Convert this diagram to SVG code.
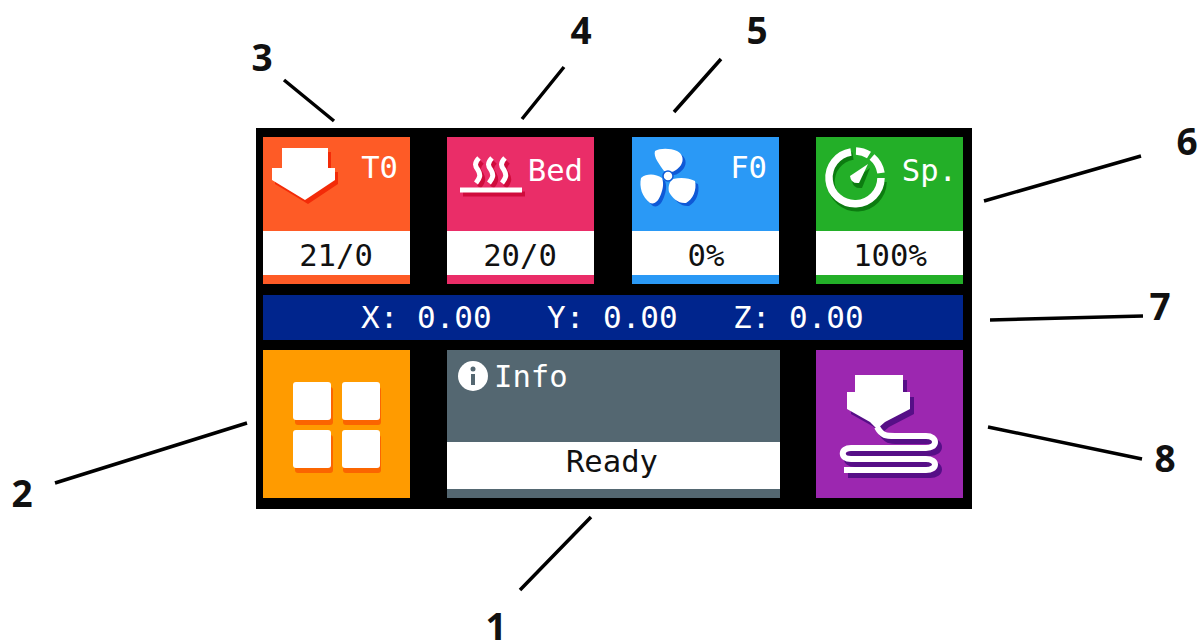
<svg xmlns="http://www.w3.org/2000/svg" width="1201" height="642" viewBox="0 0 1201 642">
<style>
.m{font-family:"DejaVu Sans Mono","Liberation Mono",monospace;font-size:30.600px}
.b{font-size:31px}
.w{fill:#fff}.k{fill:#111}.e{text-anchor:end}.c{text-anchor:middle}
.n{font-family:"Open Sans","Liberation Sans",sans-serif;font-weight:700;font-size:37px;fill:#111;text-anchor:middle}
.l{stroke:#000;stroke-width:3.5;fill:none}
</style>
<defs>
<path id="arrow" d="M282 148H328V168H335V180L305 200L272 180V168H282Z"/>
<path id="fan" d="M664 171C660 165 653 157 655 151C660 148 670 148 677 151C683 154 684 160 681 165C678 169 674 172 671 172C669 171 666 171 664 171ZM673 179C681 177 689 178 695 181C697 190 693 199 686 203C679 204 672 198 669 192C668 187 669 182 673 179ZM662 178C656 174 647 173 641 178C639 187 642 197 650 203C655 205 659 200 661 194C663 189 664 183 662 178Z"/>
<path id="wave" d="M479 158c-5 5-4 8-1 12c3 5 2 8-2 13M492 158c-5 5-4 8-1 12c3 5 2 8-2 13M505 158c-5 5-4 8-1 12c3 5 2 8-2 13M460 190H522"/>
<path id="fil" d="M877 427C882 436 886 436 895 436H926C938 436 938 448 926 448H851C840 448 840 459 851 459H926C938 459 938 470 926 470H844"/>
<path id="nozzle" d="M855 375H903V392H910V409L885 422L877 429L870 422L847 409V392H855Z"/>
</defs>
<rect width="1201" height="642" fill="#fff"/>
<rect id="panel" x="256" y="128" width="716" height="381" fill="#000"/>
<g id="tile-t0">
<rect x="263" y="137" width="147" height="147" fill="#fe5b26"/><rect x="263" y="231" width="147" height="44" fill="#fff"/>
<use href="#arrow" fill="#f32b08" transform="translate(3 4)"/><use href="#arrow" fill="#fff"/>
<text x="398" y="178" class="m w e">T0</text><text x="336" y="266" class="m k c">21/0</text>
</g>
<g id="tile-bed">
<rect x="447" y="137" width="147" height="147" fill="#ea2d68"/><rect x="447" y="231" width="147" height="44" fill="#fff"/>
<use href="#wave" fill="none" stroke="#cf0b3c" stroke-width="5" transform="translate(3 4)"/>
<use href="#wave" fill="none" stroke="#fff" stroke-width="5"/>
<text x="583" y="181" class="m w e">Bed</text><text x="520" y="266" class="m k c">20/0</text>
</g>
<g id="tile-f0">
<rect x="632" y="137" width="147" height="147" fill="#2a99f6"/><rect x="632" y="231" width="147" height="44" fill="#fff"/>
<use href="#fan" fill="#0f59d6" transform="translate(3 3)"/><use href="#fan" fill="#fff"/>
<circle cx="668" cy="176" r="5" fill="#fff" stroke="#0f59d6" stroke-width="1.500"/>
<text x="767" y="178" class="m w e">F0</text><text x="706" y="266" class="m k c">0%</text>
</g>
<g id="tile-sp">
<rect x="816" y="137" width="147" height="147" fill="#23af28"/><rect x="816" y="231" width="147" height="44" fill="#fff"/>
<g fill="none" stroke="#0c7c10" stroke-width="7.500" transform="translate(2 4)"><path d="M851 152A26 26 0 1 0 881 178"/></g>
<path d="M868 165L860 185Q851 186 850 178Z" fill="#0c7c10" transform="translate(2 3)"/>
<g fill="none" stroke="#fff" stroke-width="7.500"><path d="M851 152A26 26 0 1 0 881 178"/><path d="M856 151A26 26 0 0 1 869 155"/><path d="M872 157A26 26 0 0 1 881 173"/></g>
<path d="M868 164L859 183Q851 184 850 176Z" fill="#fff"/>
<text x="957" y="181" class="m w e">Sp.</text><text x="890" y="266" class="m k c">100%</text>
</g>
<g id="position-bar">
<rect x="263" y="295" width="700" height="45" fill="#00258d"/>
<text x="361" y="328" class="m b w">X: 0.00</text><text x="547" y="328" class="m b w">Y: 0.00</text><text x="733" y="328" class="m b w">Z: 0.00</text>
</g>
<g id="tile-menu">
<rect x="263" y="350" width="147" height="148" fill="#ff9b00"/>
<g fill="#fb6500"><rect x="295" y="387" width="38" height="38" rx="3"/><rect x="343" y="387" width="38" height="38" rx="3"/><rect x="295" y="435" width="38" height="38" rx="3"/><rect x="343" y="435" width="38" height="38" rx="3"/></g>
<g fill="#fff"><rect x="293" y="382" width="38" height="38" rx="3"/><rect x="342" y="382" width="38" height="38" rx="3"/><rect x="293" y="430" width="38" height="38" rx="3"/><rect x="342" y="430" width="38" height="38" rx="3"/></g>
</g>
<g id="tile-info">
<rect x="447" y="350" width="333" height="148" fill="#546771"/><rect x="447" y="442" width="333" height="47" fill="#fff"/>
<circle cx="473" cy="376" r="15" fill="#fff"/><rect x="471" y="374" width="4" height="11" fill="#546771"/><circle cx="473" cy="369" r="2.500" fill="#546771"/>
<text x="494" y="387" class="m w">Info</text><text x="612" y="472" class="m k c">Ready</text>
</g>
<g id="tile-print">
<rect x="816" y="350" width="147" height="148" fill="#9c27b0"/>
<g transform="translate(4 5)"><use href="#nozzle" fill="#560f87"/><use href="#fil" fill="none" stroke="#560f87" stroke-width="6"/></g>
<use href="#nozzle" fill="#fff"/>
<use href="#fil" fill="none" stroke="#fff" stroke-width="6"/>
</g>
<g id="connectors">
<path class="l" d="M284 80L334 121M564 67L522 119M721 59L674 112M1141 156L984 201M1143 316L990 320M247 423L55 483M591 517L520 590M988 427L1142 459"/>
</g>
<g id="labels">
<text x="262" y="71" class="n">3</text><text x="581" y="44" class="n">4</text><text x="757" y="44" class="n">5</text><text x="1187" y="155" class="n">6</text><text x="1160" y="320" class="n">7</text><text x="1165" y="472" class="n">8</text><text x="22" y="507" class="n">2</text><text x="496" y="640" class="n">1</text>
</g>
</svg>
